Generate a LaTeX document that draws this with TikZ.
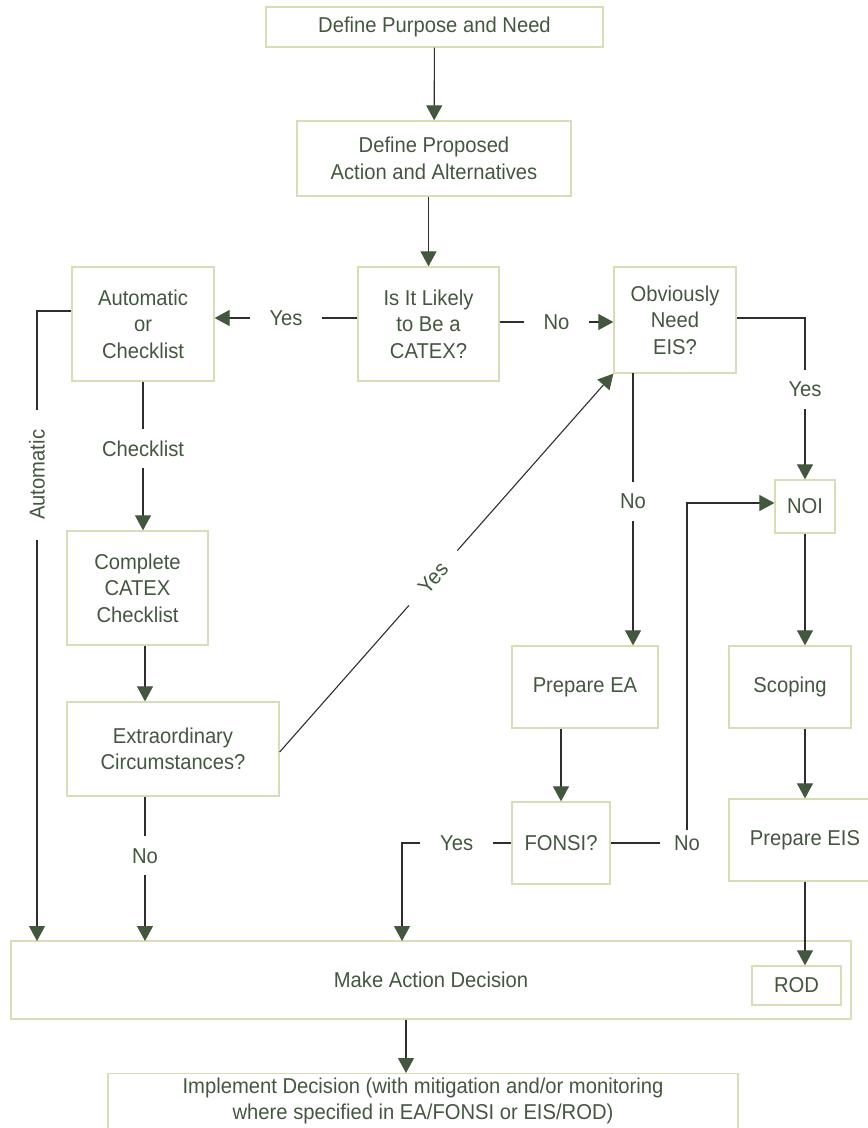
\documentclass[tikz,border=0pt]{standalone}
\usepackage{fontspec}
\setmainfont{Liberation Sans}[FakeStretch=0.94]
\usepackage{tikz}
\usetikzlibrary{arrows.meta,calc}
\definecolor{boxline}{HTML}{D9DCB6}
\definecolor{ink}{HTML}{43573F}
\definecolor{wire}{HTML}{2E2E2E}

\begin{document}
\begin{tikzpicture}[x=1pt, y=-1pt,
        box/.style={draw=boxline, line width=1.3pt, text=ink, align=center, inner sep=0pt, font=\fontsize{21.5}{26.5}\selectfont},
        lbl/.style={text=ink, fill=white, inner xsep=20pt, inner ysep=12pt, font=\fontsize{21.5}{26.5}\selectfont},
        arr/.style={draw=wire, line width=1.1pt, -{Triangle[length=15pt,width=16pt,color=ink]}}]
        \useasboundingbox (0,0) rectangle (868,1128);

        \node[box, minimum width=337pt, minimum height=40pt] (0) at (434.5,27) {Define Purpose and Need};
        \node[box, minimum width=274pt, minimum height=75pt] (1) at (434,158.5) {Define Proposed\\Action and Alternatives};
        \node[box, minimum width=141pt, minimum height=114pt] (2) at (428.5,324) {Is It Likely\\to Be a\\CATEX?};
        \node[box, minimum width=142pt, minimum height=114pt] (3) at (143,324) {Automatic\\or\\Checklist};
        \node[box, minimum width=122pt, minimum height=106pt] (4) at (675,320) {Obviously\\Need\\EIS?};
        \node[box, minimum width=60pt, minimum height=53pt] (5) at (805,506.5) {NOI};
        \node[box, minimum width=141pt, minimum height=114pt] (6) at (137.5,588) {Complete\\CATEX\\Checklist};
        \node[box, minimum width=212pt, minimum height=94pt] (7) at (173,749) {Extraordinary\\Circumstances?};
        \node[box, minimum width=146pt, minimum height=82pt] (8) at (585,687) {Prepare EA};
        \node[box, minimum width=122pt, minimum height=82pt] (9) at (790,687) {Scoping};
        \node[box, minimum width=98pt, minimum height=82pt] (10) at (561,843) {FONSI?};
        \node[box, minimum width=152pt, minimum height=82pt] (11) at (805,840) {Prepare EIS};
        \node[box, minimum width=840pt, minimum height=78pt] (12) at (431,980) {Make Action Decision};
        \node[box, minimum width=89pt, minimum height=39pt] (13) at (796.5,985.5) {ROD};
        \node[box, minimum width=630pt, inner ysep=4pt, anchor=north] (14) at (423,1073) {Implement Decision (with mitigation and/or monitoring\\where specified in EA/FONSI or EIS/ROD)\\~};

        \coordinate (15) at (37,941);
        \coordinate (16) at (145,941);
        \coordinate (17) at (402,941);
        \coordinate (18) at (687,503);
        \coordinate (19) at (633,373);

        \draw[arr] (0) -- (1);
        \draw[arr] (1.south -| 2) -- (2);
        \draw[arr] ($(2.west)+(0,-6)$) -- node[lbl] {Yes} ($(3.east)+(0,-6)$);
        \draw[arr] ($(2.east)+(0,-2)$) -- node[lbl] {No} ($(4.west)+(0,2)$);
        \draw[arr] ($(4.east)+(0,-2)$) -| node[lbl, pos=0.72] {Yes} (5.north);
        \draw[arr] (19) -- node[lbl, pos=0.47] {No} (19 |- 8.north);
        \draw[arr] (3.south) -- node[lbl, pos=0.45] {Checklist} (3.south |- 6.north);
        \draw[arr] ($(3.west)+(0,-13)$) -| node[lbl, pos=0.63, rotate=90] {Automatic} (15);
        \draw[arr] (6.south -| 16) -- (16 |- 7.north);
        \draw[arr] (7.south -| 16) -- node[lbl, pos=0.41] {No} (16);
        \draw[arr] ($(7.east)+(0,3)$) -- node[lbl, sloped, pos=0.46] {Yes} (4.south west);
        \draw[arr] (8.south -| 10) -- (10);
        \draw[arr] (10.east) -| node[lbl, inner xsep=14pt, inner ysep=6pt] {No} (18) -- (18 -| 5.west);
        \draw[arr] (10.west) -| node[lbl, pos=0.25] {Yes} (17);
        \draw[arr] (5) -- (5.south |- 9.north);
        \draw[arr] (5.south |- 9.south) -- (5.south |- 11.north);
        \draw[arr] (5.south |- 11.south) -- (5.south |- 13.north);
        \draw[arr] (12.south -| 17) ++(4,0) -- ($(14.north)+(-17,0)$);
    \end{tikzpicture}
\end{document}
